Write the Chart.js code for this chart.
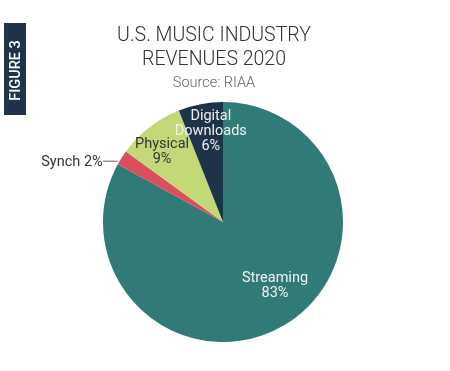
<!DOCTYPE html>
<html>
<head>
<meta charset="utf-8">
<script src="https://cdn.jsdelivr.net/npm/chart.js@4"></script>
<style>
  html, body { margin: 0; padding: 0; background: #fff; }
  #wrap { width: 450px; height: 371px; }
</style>
</head>
<body>
<div id="wrap"><canvas id="graph" width="450" height="371"></canvas></div>
<script>
// Chart data
const categories = ['Streaming', 'Synch', 'Physical', 'Digital Downloads'];
const shares = [83, 2, 9, 6];
const sliceColors = ['#307a77', '#dc4d5e', '#c3d978', '#1e3249'];
const labelLines = [['Streaming', '83%'], ['Synch 2%'], ['Physical', '9%'], ['Digital', 'Downloads', '6%']];
const labelColors = ['#f2f2f2', '#333333', '#333333', '#f0f0f0'];
const outsideLabels = [false, true, false, false];

const FONT = 'Roboto, "DejaVu Sans", sans-serif';

// Draws the title block, the side tab and the slice labels
const decorations = {
  id: 'decorations',
  afterDraw(chart, args, opts) {
    const ctx = chart.ctx;
    ctx.save();

    // side tab
    ctx.fillStyle = '#1e3249';
    ctx.fillRect(4, 23, 22, 92);
    ctx.save();
    ctx.translate(16.5, 70.5);
    ctx.rotate(-Math.PI / 2);
    ctx.fillStyle = '#ffffff';
    ctx.font = '500 14.5px ' + FONT;
    ctx.textAlign = 'center';
    ctx.textBaseline = 'middle';
    ctx.fillText('FIGURE 3', 0, 0);
    ctx.restore();

    // title
    ctx.textAlign = 'center';
    ctx.textBaseline = 'alphabetic';
    ctx.fillStyle = '#333333';
    ctx.font = '300 19.5px ' + FONT;
    ctx.fillText('U.S. MUSIC INDUSTRY', 214, 41);
    ctx.fillText('REVENUES 2020', 214, 65);
    ctx.fillStyle = '#666666';
    ctx.font = '300 14.5px ' + FONT;
    ctx.fillText('Source: RIAA', 214, 87);

    // slice labels
    const meta = chart.getDatasetMeta(0);
    ctx.font = '14.5px ' + FONT;
    ctx.textBaseline = 'middle';
    meta.data.forEach((arc, i) => {
      const mid = (arc.startAngle + arc.endAngle) / 2;
      const lines = labelLines[i];
      ctx.fillStyle = labelColors[i];
      if (outsideLabels[i]) {
        const ex = arc.x + Math.cos(mid) * arc.outerRadius;
        const ey = arc.y + Math.sin(mid) * arc.outerRadius + 3;
        ctx.strokeStyle = '#666666';
        ctx.lineWidth = 1;
        ctx.beginPath();
        ctx.moveTo(ex - 4, ey + 0.5);
        ctx.lineTo(ex - 19, ey + 0.5);
        ctx.stroke();
        ctx.textAlign = 'right';
        ctx.fillText(lines[0], ex - 19, ey + 2);
        return;
      }
      const nudge = opts.nudge[i] || [0, 0];
      const cx = arc.x + Math.cos(mid) * arc.outerRadius * 0.72 + nudge[0];
      const cy = arc.y + Math.sin(mid) * arc.outerRadius * 0.72 + nudge[1];
      const lh = 15;
      ctx.textAlign = 'center';
      lines.forEach((t, k) => {
        ctx.fillText(t, cx, cy + (k - (lines.length - 1) / 2) * lh);
      });
    });
    ctx.restore();
  }
};

const ctx = document.getElementById('graph').getContext('2d');
new Chart(ctx, {
  type: 'pie',
  data: {
    labels: categories,
    datasets: [{
      data: shares,
      backgroundColor: sliceColors,
      borderWidth: 0
    }]
  },
  options: {
    responsive: false,
    animation: false,
    layout: {
      padding: { top: 102, bottom: 29, left: 103, right: 107 }
    },
    plugins: {
      legend: { display: false },
      tooltip: { enabled: false },
      title: { display: false },
      decorations: {
        nudge: [[8, -10], [0, 0], [-8, -2], [4, -6]]
      }
    }
  },
  plugins: [decorations]
});
</script>
</body>
</html>
